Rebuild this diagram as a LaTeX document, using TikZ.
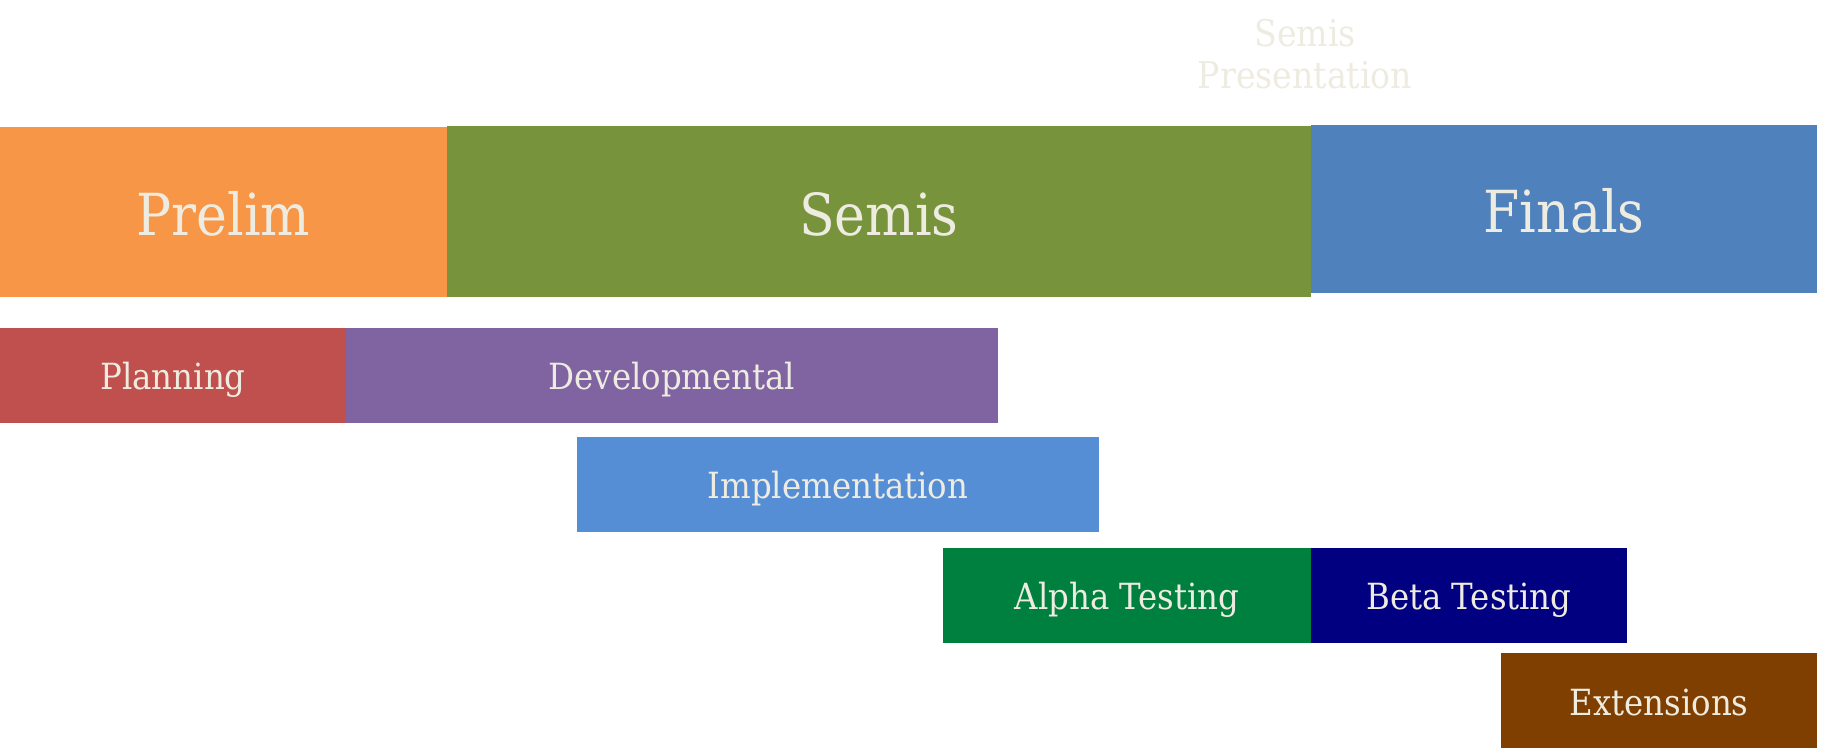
\documentclass[tikz,border=0pt]{standalone}
\usepackage{fontspec}
\setmainfont{DejaVu Serif Condensed}
\usepackage{tikz}

\definecolor{cream}{HTML}{EEECE1}
\definecolor{prelimc}{HTML}{F79646}
\definecolor{semisc}{HTML}{77933C}
\definecolor{finalsc}{HTML}{4F81BD}
\definecolor{planc}{HTML}{C0504D}
\definecolor{devc}{HTML}{8064A2}
\definecolor{implc}{HTML}{558ED5}
\definecolor{alphac}{HTML}{00803F}
\definecolor{betac}{HTML}{000080}
\definecolor{extc}{HTML}{7F3F00}

\tikzset{
  bar/.style={anchor=north west, inner sep=0pt, outer sep=0pt, text=cream, align=center, text depth=0pt},
  bigbar/.style={bar, font=\fontsize{33}{39}\selectfont, text height=27.3pt},
  smallbar/.style={bar, font=\fontsize{20.5}{24}\selectfont, text height=16.5pt}
}

\begin{document}
\begin{tikzpicture}[x=0.02cm, y=-0.02cm]

\useasboundingbox (0,0) rectangle (1844,749);

% Draw the phases
\foreach \nm/\xa/\ya/\xb/\yb/\col/\txt in {prelim/0/127/447/297/prelimc/Prelim, semis/447/126/1311/297/semisc/Semis, finals/1311/125/1817/293/finalsc/Finals}
  \node[bigbar, fill=\col, minimum width={(\xb-\xa)*0.02cm}, minimum height={(\yb-\ya)*0.02cm}] (\nm) at (\xa,\ya) {\txt};

% Draw the tasks
\foreach \nm/\xa/\ya/\xb/\yb/\col/\txt in {plan/0/328/346/423/planc/Planning, dev/346/328/998/423/devc/Developmental, impl/577/437/1099/532/implc/Implementation, alpha/943/548/1311/643/alphac/Alpha Testing, beta/1311/548/1627/643/betac/Beta Testing, ext/1501/653/1817/748/extc/Extensions}
  \node[smallbar, fill=\col, minimum width={(\xb-\xa)*0.02cm}, minimum height={(\yb-\ya)*0.02cm}] (\nm) at (\xa,\ya) {\txt};

% Mark the presentation
\node[text=cream, align=center, inner sep=0pt, font=\fontsize{21}{24.2}\selectfont] (pres) at (1305,54) {Semis\\Presentation};

\end{tikzpicture}
\end{document}
